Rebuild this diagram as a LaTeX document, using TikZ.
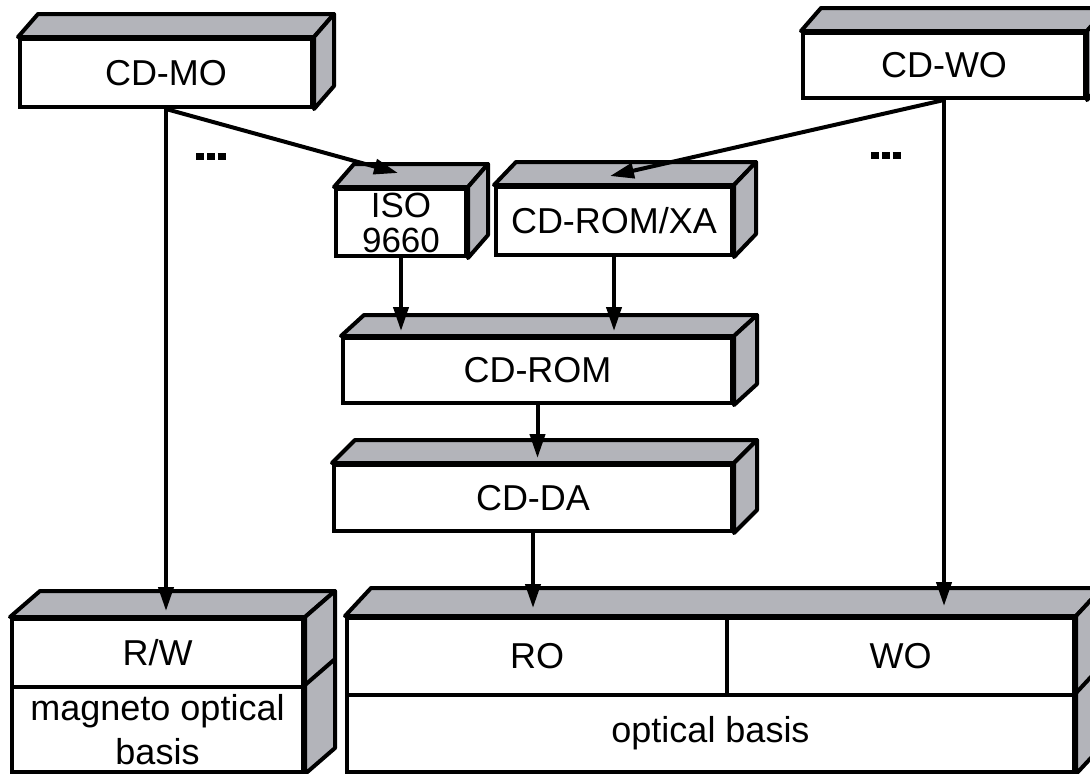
\documentclass[tikz,border=0pt]{standalone}
\usepackage{fontspec}
\setmainfont{Liberation Sans}
\usetikzlibrary{positioning}
\usetikzlibrary{calc,arrows.meta}

\definecolor{sidegray}{RGB}{179,180,186}

\tikzset{
  front/.style={draw, line width=2pt, fill=white, inner sep=0pt, align=center,
    font=\fontsize{18}{21}\selectfont},
  dims/.style 2 args={minimum width=#1*0.5pt, minimum height=#2*0.5pt},
  face/.style={draw, line width=2pt, fill=sidegray, line join=round},
  link/.style={->, line width=2pt},
}

% top and right faces of a block: top-left, top-right, bottom-right corner, depth
\newcommand{\boxsides}[4]{%
  \draw[face] (#1) -- ++(#4) -- ($(#2)+(#4)$) -- (#2) -- cycle;
  \draw[face] (#2) -- ++(#4) -- ($(#3)+(#4)$) -- (#3) -- cycle;
}
\newcommand{\blips}{\rule{4pt}{3.5pt}\hspace{1.3pt}\rule{4pt}{3.5pt}\hspace{1.3pt}\rule{4pt}{3.5pt}}

\begin{document}
\begin{tikzpicture}[x=0.5pt, y=-0.5pt, >={Triangle[length=12pt,width=7.5pt]}]
  \useasboundingbox (0,0) rectangle (1090,773);
  \clip (0,0) rectangle (1090,773);

  % blocks
  \node[front, dims={292}{68}] at (166,73) (cdmo) {CD-MO};
  \node[front, dims={282}{65}] at (944,65.5) (cdwo) {CD-WO};
  \node[front, dims={130}{67}, font=\fontsize{17.5}{17.5}\selectfont] at (401,222.5) (iso) {ISO\\9660};
  \node[front, dims={236}{68}] at (614,221) (xa) {CD-ROM/XA};
  \node[front, dims={389}{65}] at (537.5,370.5) (cdrom) {CD-ROM};
  \node[front, dims={398}{66}] at (533,498) (cdda) {CD-DA};

  \node[front, dims={291}{68}] at (157.5,653) (rw) {R/W};
  \node[front, dims={291}{85}, font=\fontsize{18}{22}\selectfont] at (157.5,729.5) (mob) {magneto optical\\basis};

  \node[front, dims={380}{77}] at (537,656.5) (ro) {RO};
  \node[front, dims={347}{77}] at (900.5,656.5) (wo) {WO};
  \node[front, dims={727}{77}] at (710.5,733.5) (ob) {optical basis};

  \boxsides{cdmo.north west}{cdmo.north east}{cdmo.south east}{20,-23}
  \boxsides{cdwo.north west}{cdwo.north east}{cdwo.south east}{20,-23}
  \boxsides{iso.north west}{iso.north east}{iso.south east}{20,-23}
  \boxsides{xa.north west}{xa.north east}{xa.south east}{22,-23}
  \boxsides{cdrom.north west}{cdrom.north east}{cdrom.south east}{23,-21}
  \boxsides{cdda.north west}{cdda.north east}{cdda.south east}{23,-23}
  \boxsides{rw.north west}{rw.north east}{mob.south east}{30,-26}
  \draw[face] (mob.north east) -- ++(30,-26);
  \boxsides{ro.north west}{wo.north east}{ob.south east}{26,-28}
  \draw[face] (ob.north east) -- ++(26,-28);

  \node at (211,156) (dotsl) {\blips};
  \node at (886,155) (dotsr) {\blips};

  % links
  \draw[link, shorten >=3pt] (cdmo.south) -- (cdmo.south |- rw.north);
  \draw[link] (cdmo.south) -- ($(iso.north)+(-3,-14)$);
  \draw[link] (cdwo.south) -- ($(xa.north)+(-4,-9)$);
  \draw[link, shorten >=5pt] (cdwo.south) -- (cdwo.south |- wo.north);
  \draw[link, shorten >=2.5pt] (iso.south) -- (iso.south |- cdrom.north);
  \draw[link, shorten >=2.5pt] (xa.south) -- (xa.south |- cdrom.north);
  \draw[link, shorten >=2.5pt] (cdrom.south) -- (cdrom.south |- cdda.north);
  \draw[link, shorten >=4pt] (cdda.south) -- (cdda.south |- ro.north);
\end{tikzpicture}
\end{document}
